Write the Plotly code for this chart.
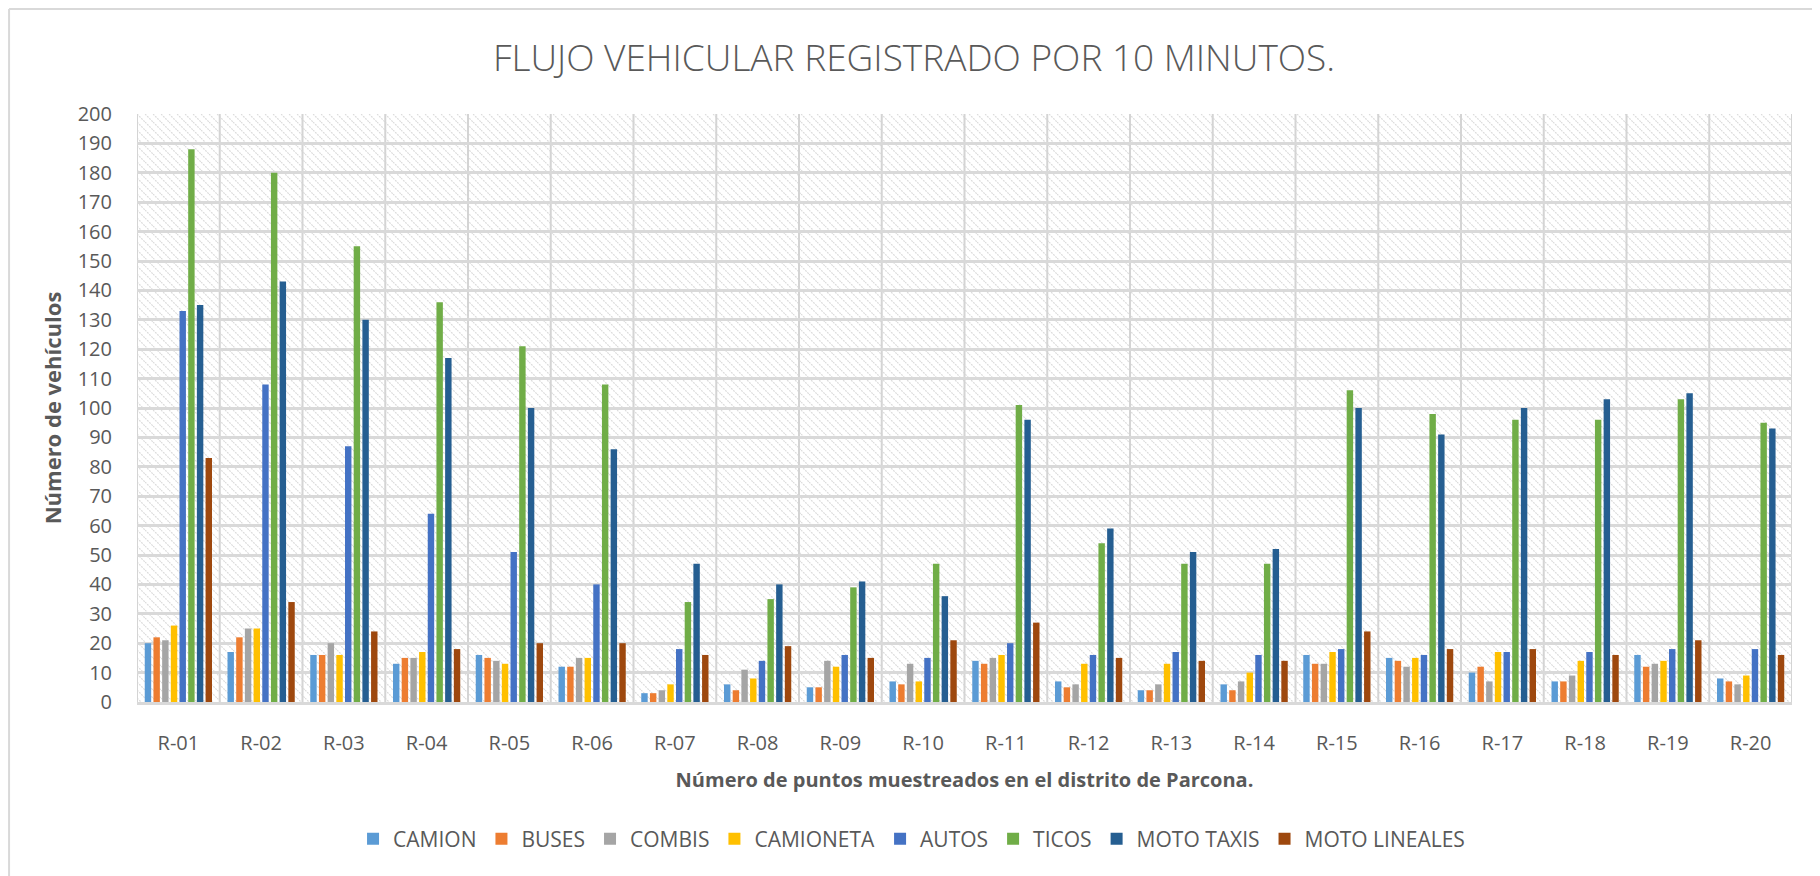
import plotly.graph_objects as go
import base64

categories = ["R-01", "R-02", "R-03", "R-04", "R-05", "R-06", "R-07", "R-08", "R-09", "R-10",
              "R-11", "R-12", "R-13", "R-14", "R-15", "R-16", "R-17", "R-18", "R-19", "R-20"]

camion        = [20, 17, 16, 13, 16, 12, 3, 6, 5, 7, 14, 7, 4, 6, 16, 15, 10, 7, 16, 8]
buses         = [22, 22, 16, 15, 15, 12, 3, 4, 5, 6, 13, 5, 4, 4, 13, 14, 12, 7, 12, 7]
combis        = [21, 25, 20, 15, 14, 15, 4, 11, 14, 13, 15, 6, 6, 7, 13, 12, 7, 9, 13, 6]
camioneta     = [26, 25, 16, 17, 13, 15, 6, 8, 12, 7, 16, 13, 13, 10, 17, 15, 17, 14, 14, 9]
autos         = [133, 108, 87, 64, 51, 40, 18, 14, 16, 15, 20, 16, 17, 16, 18, 16, 17, 17, 18, 18]
ticos         = [188, 180, 155, 136, 121, 108, 34, 35, 39, 47, 101, 54, 47, 47, 106, 98, 96, 96, 103, 95]
moto_taxis    = [135, 143, 130, 117, 100, 86, 47, 40, 41, 36, 96, 59, 51, 52, 100, 91, 100, 103, 105, 93]
moto_lineales = [83, 34, 24, 18, 20, 20, 16, 19, 15, 21, 27, 15, 14, 14, 24, 18, 18, 16, 21, 16]

series_names = ["CAMION", "BUSES", "COMBIS", "CAMIONETA", "AUTOS", "TICOS", "MOTO TAXIS", "MOTO LINEALES"]
series_values = [camion, buses, combis, camioneta, autos, ticos, moto_taxis, moto_lineales]
colors = ["#5B9BD5", "#ED7D31", "#A5A5A5", "#FFC000", "#4472C4", "#70AD47", "#255E91", "#9E480E"]

title_text = "FLUJO VEHICULAR REGISTRADO POR 10 MINUTOS."
x_title = "Número de puntos muestreados en el distrito de Parcona."
y_title = "Número de vehículos"

FONT = "Open Sans, Roboto, Liberation Sans, sans-serif"
GRAY = "#595959"

fig = go.Figure()
for name, vals, col in zip(series_names, series_values, colors):
    fig.add_trace(go.Bar(name=name, x=categories, y=vals, marker=dict(color=col, line=dict(width=0))))

# hatch background for plot area
W, H = 1655, 588
svg = (f'<svg xmlns="http://www.w3.org/2000/svg" width="{W}" height="{H}" viewBox="0 0 {W} {H}" preserveAspectRatio="none">'
       '<defs><pattern id="p" patternUnits="userSpaceOnUse" width="8" height="8">'
       '<path d="M0,0 L8,8 M-2,6 L2,10 M6,-2 L10,2" stroke="#dcdcdc" stroke-width="1.2" stroke-dasharray="2,1"/>'
       '</pattern></defs>'
       f'<rect width="{W}" height="{H}" fill="white"/><rect width="{W}" height="{H}" fill="url(#p)"/></svg>')
src = "data:image/svg+xml;base64," + base64.b64encode(svg.encode()).decode()

# vertical separators at category boundaries
shapes = [dict(type="line", xref="x", yref="paper", x0=i - 0.5, x1=i - 0.5, y0=0, y1=1, layer="below",
               line=dict(color="#d4d4d4", width=2)) for i in range(len(categories) + 1)]
shapes += [
    dict(type="line", xref="paper", yref="paper", x0=-0.0773, x1=1.1, y0=1.1786, y1=1.1786,
         line=dict(color="#d9d9d9", width=2)),
    dict(type="line", xref="paper", yref="paper", x0=-0.0773, x1=-0.0773, y0=-0.5, y1=1.1786,
         line=dict(color="#d9d9d9", width=2)),
]

fig.update_layout(
    width=1812, height=868,
    paper_bgcolor="white", plot_bgcolor="white",
    margin=dict(l=129, r=28, t=106, b=174, autoexpand=False),
    barmode="group", bargap=0.16, bargroupgap=0.26,
    font=dict(family=FONT, color=GRAY),
    title=dict(text=title_text, x=0.5, xanchor="center", y=0.9424, yanchor="middle",
               font=dict(family=FONT, size=37, color=GRAY, weight=300)),
    legend=dict(orientation="h", x=0.468, xanchor="center", y=-0.233, yanchor="middle",
                font=dict(size=21, color=GRAY), traceorder="normal", itemwidth=30),
    images=[dict(source=src, xref="paper", yref="paper", x=0, y=1, sizex=1, sizey=1,
                 sizing="stretch", layer="below", xanchor="left", yanchor="top")],
    xaxis=dict(type="category", range=[-0.5, len(categories) - 0.5], showgrid=False,
               ticks="outside", ticklen=21, tickcolor="rgba(0,0,0,0)", tickfont=dict(size=20, color=GRAY),
               showline=True, linecolor="#d9d9d9", linewidth=3, mirror=False, automargin=False,
               title=dict(text="<b>" + x_title + "</b>", font=dict(size=20, color=GRAY), standoff=18)),
    yaxis=dict(range=[0, 200], dtick=10, showgrid=True, gridcolor="#d9d9d9", gridwidth=3,
               zeroline=False, ticks="outside", ticklen=20, tickcolor="rgba(0,0,0,0)",
               tickfont=dict(size=20, color=GRAY), automargin=False,
               title=dict(text="<b>" + y_title + "</b>", font=dict(size=22, color=GRAY), standoff=9)),
    shapes=shapes,
)

fig.write_html("out.html")
